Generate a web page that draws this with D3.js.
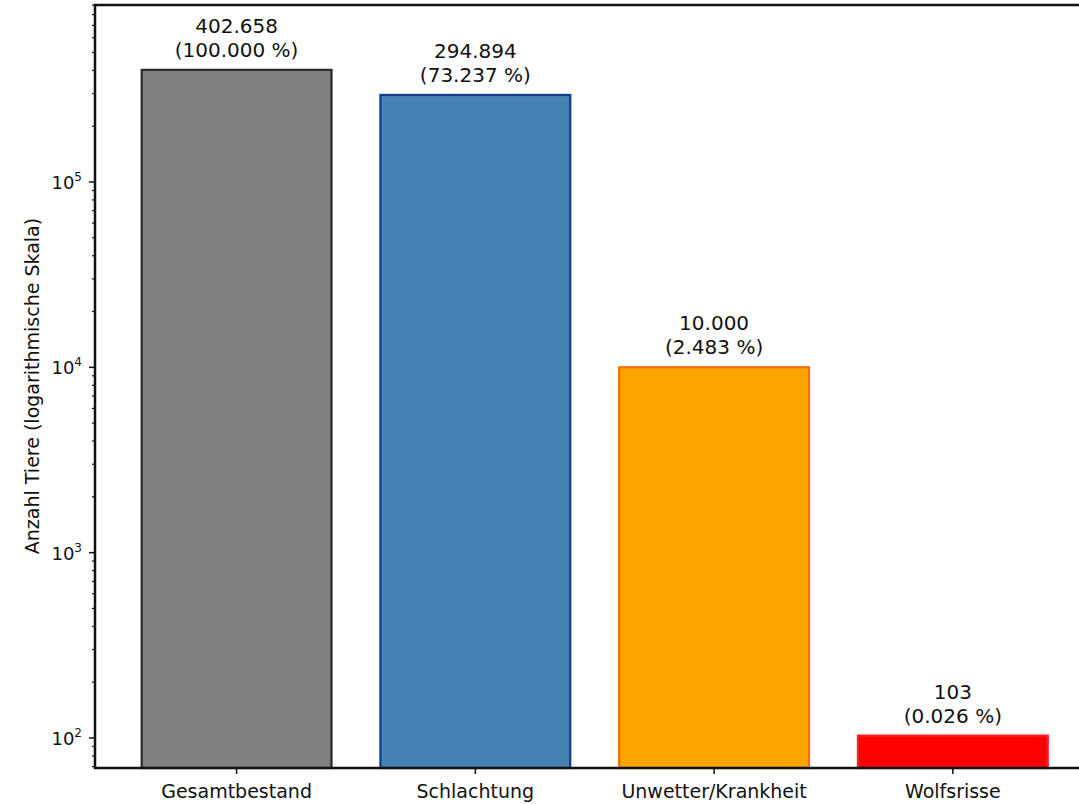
<!DOCTYPE html>
<html>
<head>
<meta charset="utf-8">
<script src="https://cdn.jsdelivr.net/npm/d3@7"></script>
<style>
  html, body { margin: 0; padding: 0; background: #fff; }
  svg { display: block; font-family: "DejaVu Sans", sans-serif; }
</style>
</head>
<body>
<svg id="chart" width="1079" height="804"></svg>
<script>
// Tierbestand und Abgänge (logarithmische Darstellung)
const categories = ["Gesamtbestand", "Schlachtung", "Unwetter/Krankheit", "Wolfsrisse"];
const values = [402658, 294894, 10000, 103];
const valueLabels = ["402.658", "294.894", "10.000", "103"];
const shareLabels = ["(100.000 %)", "(73.237 %)", "(2.483 %)", "(0.026 %)"];
const fillColors = ["#808080", "#4682b4", "#ffa500", "#ff0000"];
const edgeColors = ["#2a2a2a", "#0d3d8c", "#ff6a00", "#ff2020"];
const yTickExponents = [2, 3, 4, 5];
const yLabel = "Anzahl Tiere (logarithmische Skala)";

const svg = d3.select("#chart");
const plot = { left: 95, top: 5, bottom: 768, right: 1093 }; // frame continues past the visible edge

// Continuous x like matplotlib: bars at 0..3, width 0.8, 5% margins
const x = d3.scaleLinear().domain([-0.593, 3.587]).range([plot.left, plot.right]);
const y = d3.scaleLog().domain([Math.pow(10, 1.838), Math.pow(10, 5.955)]).range([plot.bottom, plot.top]);
const barW = 0.795;

const g = svg.append("g");

// Bars
g.selectAll("rect.bar")
  .data(values)
  .join("rect")
  .attr("class", "bar")
  .attr("x", (d, i) => x(i - barW / 2))
  .attr("width", (d, i) => x(i + barW / 2) - x(i - barW / 2))
  .attr("y", d => y(d))
  .attr("height", d => plot.bottom - y(d))
  .attr("fill", (d, i) => fillColors[i])
  .attr("stroke", (d, i) => edgeColors[i])
  .attr("stroke-width", 2.2);

// Value labels above bars
const lab = g.selectAll("text.val")
  .data(values)
  .join("text")
  .attr("class", "val")
  .attr("text-anchor", "middle")
  .attr("font-size", 20)
  .attr("fill", "#111");
lab.append("tspan")
  .attr("x", (d, i) => x(i))
  .attr("y", d => y(d) - 37)
  .text((d, i) => valueLabels[i]);
lab.append("tspan")
  .attr("x", (d, i) => x(i))
  .attr("y", d => y(d) - 13)
  .text((d, i) => shareLabels[i]);

// Y axis: major and minor ticks
const minorTicks = [];
for (let e = 1; e <= 5; e++) {
  for (let m = 2; m <= 9; m++) {
    const v = m * Math.pow(10, e);
    if (v >= y.domain()[0] && v <= y.domain()[1]) minorTicks.push(v);
  }
}
g.selectAll("line.minor")
  .data(minorTicks)
  .join("line")
  .attr("x1", plot.left - 3).attr("x2", plot.left)
  .attr("y1", d => y(d)).attr("y2", d => y(d))
  .attr("stroke", "#111").attr("stroke-width", 1.2);

g.selectAll("line.major")
  .data(yTickExponents)
  .join("line")
  .attr("x1", plot.left - 6).attr("x2", plot.left)
  .attr("y1", d => y(Math.pow(10, d))).attr("y2", d => y(Math.pow(10, d)))
  .attr("stroke", "#111").attr("stroke-width", 1.5);

const yt = g.selectAll("text.ytick")
  .data(yTickExponents)
  .join("text")
  .attr("class", "ytick")
  .attr("x", plot.left - 13)
  .attr("y", d => y(Math.pow(10, d)) + 7)
  .attr("text-anchor", "end")
  .attr("font-size", 18)
  .attr("fill", "#111");
yt.append("tspan").text("10");
yt.append("tspan").attr("font-size", 12).attr("dy", -8).text(d => d);

// X ticks and labels
g.selectAll("line.xtick")
  .data(categories)
  .join("line")
  .attr("x1", (d, i) => x(i)).attr("x2", (d, i) => x(i))
  .attr("y1", plot.bottom).attr("y2", plot.bottom + 6)
  .attr("stroke", "#111").attr("stroke-width", 1.5);

g.selectAll("text.xlab")
  .data(categories)
  .join("text")
  .attr("class", "xlab")
  .attr("x", (d, i) => x(i))
  .attr("y", plot.bottom + 30)
  .attr("text-anchor", "middle")
  .attr("font-size", 19)
  .attr("fill", "#111")
  .text(d => d);

// Frame
g.append("rect")
  .attr("x", plot.left).attr("y", plot.top)
  .attr("width", plot.right - plot.left).attr("height", plot.bottom - plot.top)
  .attr("fill", "none")
  .attr("stroke", "#111")
  .attr("stroke-width", 2.5);

// Y axis title
g.append("text")
  .attr("transform", "translate(39,386) rotate(-90)")
  .attr("text-anchor", "middle")
  .attr("font-size", 19)
  .attr("fill", "#111")
  .text(yLabel);
</script>
</body>
</html>
